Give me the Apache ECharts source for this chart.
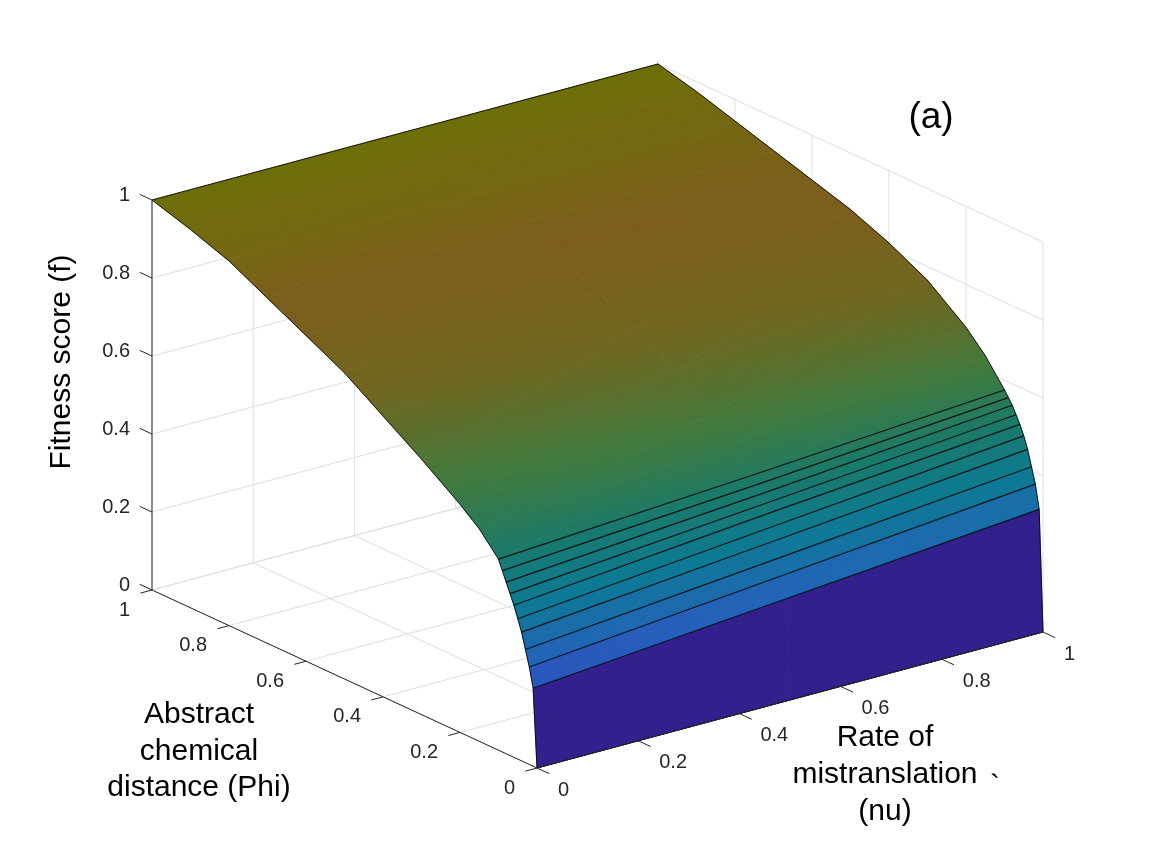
<!DOCTYPE html>
<html><head><meta charset="utf-8">
<script src="https://cdn.jsdelivr.net/npm/echarts@6/dist/echarts.min.js"></script>
<style>html,body{margin:0;padding:0;background:#fff}#chart{width:1152px;height:864px}</style>
</head><body><div id="chart"></div>
<script>
// ---------------- data ----------------
const nuValues = [0, 0.5, 1];
const phiValues = [0, 0.01, 0.02, 0.03, 0.04, 0.05, 0.06, 0.07, 0.08, 0.09, 0.1, 0.15, 0.2, 0.3, 0.4, 0.5, 0.6, 0.7, 0.8, 0.9, 1];
const fitnessAtNu0  = [0, 0.20, 0.25, 0.29, 0.33, 0.36, 0.39, 0.415, 0.44, 0.465, 0.49, 0.545, 0.585, 0.655, 0.72, 0.785, 0.835, 0.885, 0.935, 0.97, 1];
const fitnessAtNu05 = [0, 0.255, 0.31, 0.35, 0.39, 0.42, 0.45, 0.47, 0.49, 0.51, 0.53, 0.59, 0.64, 0.71, 0.77, 0.82, 0.86, 0.90, 0.94, 0.97, 1];
const fitnessAtNu1  = [0, 0.31, 0.37, 0.41, 0.45, 0.48, 0.505, 0.525, 0.545, 0.56, 0.575, 0.64, 0.69, 0.765, 0.815, 0.855, 0.885, 0.915, 0.945, 0.975, 1];
const zTicks = [0, 0.2, 0.4, 0.6, 0.8, 1];
const zTickLabels = ['0', '0.2', '0.4', '0.6', '0.8', '1'];
const phiTicks = [0, 0.2, 0.4, 0.6, 0.8, 1];
const phiTickLabels = ['0', '0.2', '0.4', '0.6', '0.8', '1'];
const nuTicks = [0, 0.2, 0.4, 0.6, 0.8, 1];
const nuTickLabels = ['0', '0.2', '0.4', '0.6', '0.8', '1'];
const zTitle = 'Fitness score (f)';
const phiTitle = ['Abstract', 'chemical', 'distance (Phi)'];
const nuTitle = ['Rate of', 'mistranslation', '(nu)'];
const panelLabel = '(a)';

// ---------------- view / style ----------------
const columns = [fitnessAtNu0, fitnessAtNu05, fitnessAtNu1];
const F = phiValues.map((_, i) => columns.map(col => col[i]));
const VIEW = { ox: 537, oy: 768, nu: [506, -136], phi: [-385, -178], z: -390 };
function project(nu, phi, f) {
  return [VIEW.ox + VIEW.nu[0] * nu + VIEW.phi[0] * phi,
          VIEW.oy + VIEW.nu[1] * nu + VIEW.phi[1] * phi + VIEW.z * f];
}
const PARULA = [[0,[62,38,168]],[0.125,[71,82,244]],[0.25,[46,135,247]],[0.375,[18,177,214]],
  [0.5,[40,190,165]],[0.625,[113,206,102]],[0.75,[205,190,60]],[0.875,[254,190,60]],[1,[249,251,21]]];
function parula(t) {
  t = Math.max(0, Math.min(1, t));
  for (let s = 1; s < PARULA.length; s++) {
    if (t <= PARULA[s][0]) {
      const [t0, c0] = PARULA[s - 1], [t1, c1] = PARULA[s];
      const u = (t - t0) / (t1 - t0);
      return c0.map((v, k) => v + (c1[k] - v) * u);
    }
  }
  return PARULA[PARULA.length - 1][1];
}
// apparent colour of the dense black-edged mesh: darker where the mesh is flatter (higher f)
function meshColor(f) {
  const k = 0.84 - 0.4 * f;
  return 'rgb(' + parula(f).map(v => Math.round(v * k)).join(',') + ')';
}
function rampStops(f0, f1) {
  const out = [];
  for (let s = 0; s <= 4; s++) out.push({ offset: s / 4, color: meshColor(f0 + (f1 - f0) * s / 4) });
  return out;
}
function triFill(p, f) {
  const [x1, y1] = p[0], [x2, y2] = p[1], [x3, y3] = p[2];
  const det = (x2 - x1) * (y3 - y1) - (x3 - x1) * (y2 - y1);
  const fmin = Math.min(f[0], f[1], f[2]), fmax = Math.max(f[0], f[1], f[2]);
  if (Math.abs(det) < 1e-6 || fmax - fmin < 1e-6) return meshColor((f[0] + f[1] + f[2]) / 3);
  const d2 = f[1] - f[0], d3 = f[2] - f[0];
  const A = (d2 * (y3 - y1) - d3 * (y2 - y1)) / det;
  const B = (d3 * (x2 - x1) - d2 * (x3 - x1)) / det;
  const g2 = A * A + B * B;
  if (g2 < 1e-12) return meshColor(fmin);
  const im = f.indexOf(fmin);
  const P0 = p[im];
  const s = (fmax - fmin) / g2;
  return new echarts.graphic.LinearGradient(P0[0], P0[1], P0[0] + A * s, P0[1] + B * s, rampStops(fmin, fmax), true);
}

const cells = [];
for (let i = 0; i < phiValues.length - 1; i++)
  for (let j = 0; j < nuValues.length - 1; j++) cells.push([i, j]);

function renderCell(params, api) {
  const [i, j] = cells[params.dataIndex];
  const P = (jj, ii) => api.coord(project(nuValues[jj], phiValues[ii], F[ii][jj]));
  const a = P(j, i), b = P(j + 1, i), c = P(j + 1, i + 1), d = P(j, i + 1);
  const steps = Math.max(1, Math.round((phiValues[i + 1] - phiValues[i]) / 0.01));
  const children = [];
  if (i === 0) {
    const fill = meshColor(0);
    children.push({ type: 'polygon', shape: { points: [a, b, c, d] }, style: { fill: fill, stroke: fill, lineWidth: 0.8 } });
  } else if (steps === 1) {
    const fill = new echarts.graphic.LinearGradient(a[0], a[1], b[0], b[1], rampStops(F[i][j], F[i][j + 1]), true);
    children.push({ type: 'polygon', shape: { points: [a, b, c, d] }, style: { fill: fill, stroke: fill, lineWidth: 0.8 } });
  } else {
    const f1 = triFill([a, b, c], [F[i][j], F[i][j + 1], F[i + 1][j + 1]]);
    const f2 = triFill([a, c, d], [F[i][j], F[i + 1][j + 1], F[i + 1][j]]);
    children.push({ type: 'polygon', shape: { points: [a, b, c] }, style: { fill: f1, stroke: f1, lineWidth: 0.8 } });
    children.push({ type: 'polygon', shape: { points: [a, c, d] }, style: { fill: f2, stroke: f2, lineWidth: 0.8 } });
  }
  if (i >= 1 && phiValues[i] <= 0.1 + 1e-9)
    children.push({ type: 'polyline', shape: { points: [a, b] }, style: { stroke: 'rgba(0,0,0,0.85)', lineWidth: 1.2, fill: null } });
  return { type: 'group', children: children };
}

function renderOutline(params, api) {
  const n = phiValues.length, m = nuValues.length;
  const pts = [];
  for (let i = 0; i < n; i++) pts.push(api.coord(project(nuValues[0], phiValues[i], F[i][0])));
  for (let j = 1; j < m; j++) pts.push(api.coord(project(nuValues[j], phiValues[n - 1], F[n - 1][j])));
  for (let i = n - 2; i >= 0; i--) pts.push(api.coord(project(nuValues[m - 1], phiValues[i], F[i][m - 1])));
  return { type: 'polygon', shape: { points: pts }, style: { fill: null, stroke: 'rgba(0,0,0,0.8)', lineWidth: 1 } };
}

const GRID_COLOR = '#dedede';
function seg(p, q, color, w) {
  return { type: 'line', shape: { x1: p[0], y1: p[1], x2: q[0], y2: q[1] }, style: { stroke: color, lineWidth: w } };
}
function renderGrid(params, api) {
  const C = (nu, phi, f) => api.coord(project(nu, phi, f));
  const ch = [];
  zTicks.forEach(z => {
    ch.push(seg(C(0, 1, z), C(1, 1, z), GRID_COLOR, 1));
    ch.push(seg(C(1, 1, z), C(1, 0, z), GRID_COLOR, 1));
  });
  nuTicks.forEach(nu => {
    ch.push(seg(C(nu, 1, 0), C(nu, 1, 1), GRID_COLOR, 1));
    ch.push(seg(C(nu, 0, 0), C(nu, 1, 0), GRID_COLOR, 1));
  });
  phiTicks.forEach(phi => {
    ch.push(seg(C(1, phi, 0), C(1, phi, 1), GRID_COLOR, 1));
    ch.push(seg(C(0, phi, 0), C(1, phi, 0), GRID_COLOR, 1));
  });
  return { type: 'group', children: ch };
}

const AX = '#262626';
const TICK_FONT = '20px "Liberation Sans", Arial, Helvetica, sans-serif';
function label(p, dx, dy, text, align) {
  return { type: 'text', x: p[0] + dx, y: p[1] + dy,
    style: { text: text, font: TICK_FONT, fill: AX, align: align, textAlign: align, verticalAlign: 'middle', textVerticalAlign: 'middle' } };
}
function renderAxes(params, api) {
  const C = (nu, phi, f) => api.coord(project(nu, phi, f));
  const ch = [];
  ch.push(seg(C(0, 1, 0), C(0, 1, 1), AX, 1));
  ch.push(seg(C(0, 0, 0), C(0, 1, 0), AX, 1));
  ch.push(seg(C(0, 0, 0), C(1, 0, 0), AX, 1));
  zTicks.forEach((z, k) => {
    ch.push(seg(C(0, 1, z), C(0, 1.032, z), AX, 1));
    ch.push(label(C(0, 1, z), -22, -5, zTickLabels[k], 'right'));
  });
  phiTicks.forEach((phi, k) => {
    ch.push(seg(C(0, phi, 0), C(-0.023, phi, 0), AX, 1));
    ch.push(label(C(0, phi, 0), -22, 20, phiTickLabels[k], 'right'));
  });
  nuTicks.forEach((nu, k) => {
    ch.push(seg(C(nu, 0, 0), C(nu, -0.032, 0), AX, 1));
    ch.push(label(C(nu, 0, 0), 21, 22, nuTickLabels[k], 'left'));
  });
  return { type: 'group', children: ch };
}

const TITLE_FONT = '30px "Liberation Sans", Arial, Helvetica, sans-serif';
function titleText(x, y, text, extra) {
  return Object.assign({ type: 'text', x: x, y: y,
    style: { text: text, font: TITLE_FONT, fill: '#000', textAlign: 'center', textVerticalAlign: 'middle', align: 'center', verticalAlign: 'middle' } }, extra || {});
}
const graphics = [];
graphics.push(titleText(62, 362, zTitle, { rotation: Math.PI / 2 }));
phiTitle.forEach((t, k) => graphics.push(titleText(199, 715 + 36.5 * k, t)));
nuTitle.forEach((t, k) => graphics.push(titleText(885, 738 + 37 * k, t)));
graphics.push({ type: 'text', x: 990, y: 787, style: { text: '`', font: TITLE_FONT, fill: '#000', textAlign: 'left', align: 'left', textVerticalAlign: 'middle', verticalAlign: 'middle' } });
graphics.push({ type: 'text', x: 931, y: 118, style: { text: panelLabel, font: '37px "Liberation Sans", Arial, Helvetica, sans-serif', fill: '#000', textAlign: 'center', align: 'center', textVerticalAlign: 'middle', verticalAlign: 'middle' } });

const chart = echarts.init(document.getElementById('chart'), null, { renderer: 'canvas' });
chart.setOption({
  animation: false,
  backgroundColor: '#fff',
  grid: { left: 0, right: 0, top: 0, bottom: 0 },
  xAxis: { type: 'value', min: 0, max: 1152, show: false },
  yAxis: { type: 'value', min: 0, max: 864, inverse: true, show: false },
  graphic: graphics,
  series: [
    { type: 'custom', name: 'grid', coordinateSystem: 'cartesian2d', silent: true, z: 1, data: [[0, 0]], renderItem: renderGrid },
    { type: 'custom', name: 'surface', coordinateSystem: 'cartesian2d', silent: true, z: 2, data: cells, renderItem: renderCell },
    { type: 'custom', name: 'outline', coordinateSystem: 'cartesian2d', silent: true, z: 3, data: [[0, 0]], renderItem: renderOutline },
    { type: 'custom', name: 'axes', coordinateSystem: 'cartesian2d', silent: true, z: 4, data: [[0, 0]], renderItem: renderAxes }
  ]
});
</script></body></html>
